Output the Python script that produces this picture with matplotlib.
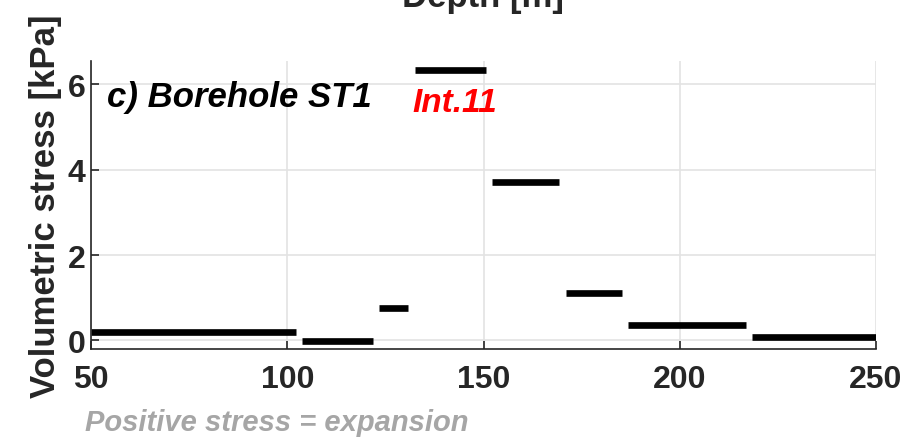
import numpy as np
import matplotlib.pyplot as plt

# interval depths [m] and mean volumetric stress [kPa]
top_depth = [50, 103.8, 123.4, 132.5, 152.2, 171.0, 186.8, 218.3]
bottom_depth = [102.2, 121.8, 130.8, 150.6, 169.2, 185.3, 216.8, 250]
vol_stress = [0.20, -0.02, 0.77, 6.33, 3.71, 1.12, 0.36, 0.09]

plt.rcParams['font.family'] = ['Liberation Sans', 'DejaVu Sans']
dark = '#262626'

fig = plt.figure(figsize=(9.11, 4.39), dpi=100)
ax = fig.add_axes([0.0999, 0.2027, 0.8617, 0.6561])

ax.hlines(vol_stress, top_depth, bottom_depth, colors='k', linewidth=4.8)

ax.set_xlim(50, 250)
ax.set_ylim(-0.2, 6.55)
ax.set_xticks([50, 100, 150, 200, 250])
ax.set_yticks([0, 2, 4, 6])
ax.grid(True, color='#e3e3e3', linewidth=1.2)
ax.set_axisbelow(True)
for s in ['top', 'right']:
    ax.spines[s].set_visible(False)
for s in ['left', 'bottom']:
    ax.spines[s].set_color(dark)
    ax.spines[s].set_linewidth(1.2)
ax.tick_params(direction='in', length=6, width=1.2, color=dark,
               labelsize=23, labelcolor=dark)
for lab in ax.get_xticklabels() + ax.get_yticklabels():
    lab.set_fontweight('bold')
ax.tick_params(axis='x', pad=11)
ax.tick_params(axis='y', pad=4)

ax.set_ylabel('Volumetric stress [kPa]', fontsize=25, fontweight='bold',
              color=dark, labelpad=4)

ax.text(0.021, 0.875, 'c) Borehole ST1', transform=ax.transAxes,
        fontsize=25, fontweight='bold', fontstyle='italic', color='k',
        va='center', ha='left')
ax.text(132.0, 5.58, 'Int.11', fontsize=24, fontweight='bold',
        fontstyle='italic', color='#ff0000', va='center', ha='left')

# axis label of the panel above, clipped by the figure edge
fig.text(0.53, 1 - 14 / 439, 'Depth [m]', fontsize=25, fontweight='bold',
         color=dark, ha='center', va='bottom')
fig.text(0.093, 1 - 423 / 439, 'Positive stress = expansion', fontsize=21,
         fontweight='bold', fontstyle='italic', color='#a6a6a6',
         ha='left', va='center')

fig.savefig('out.png', dpi=100)
